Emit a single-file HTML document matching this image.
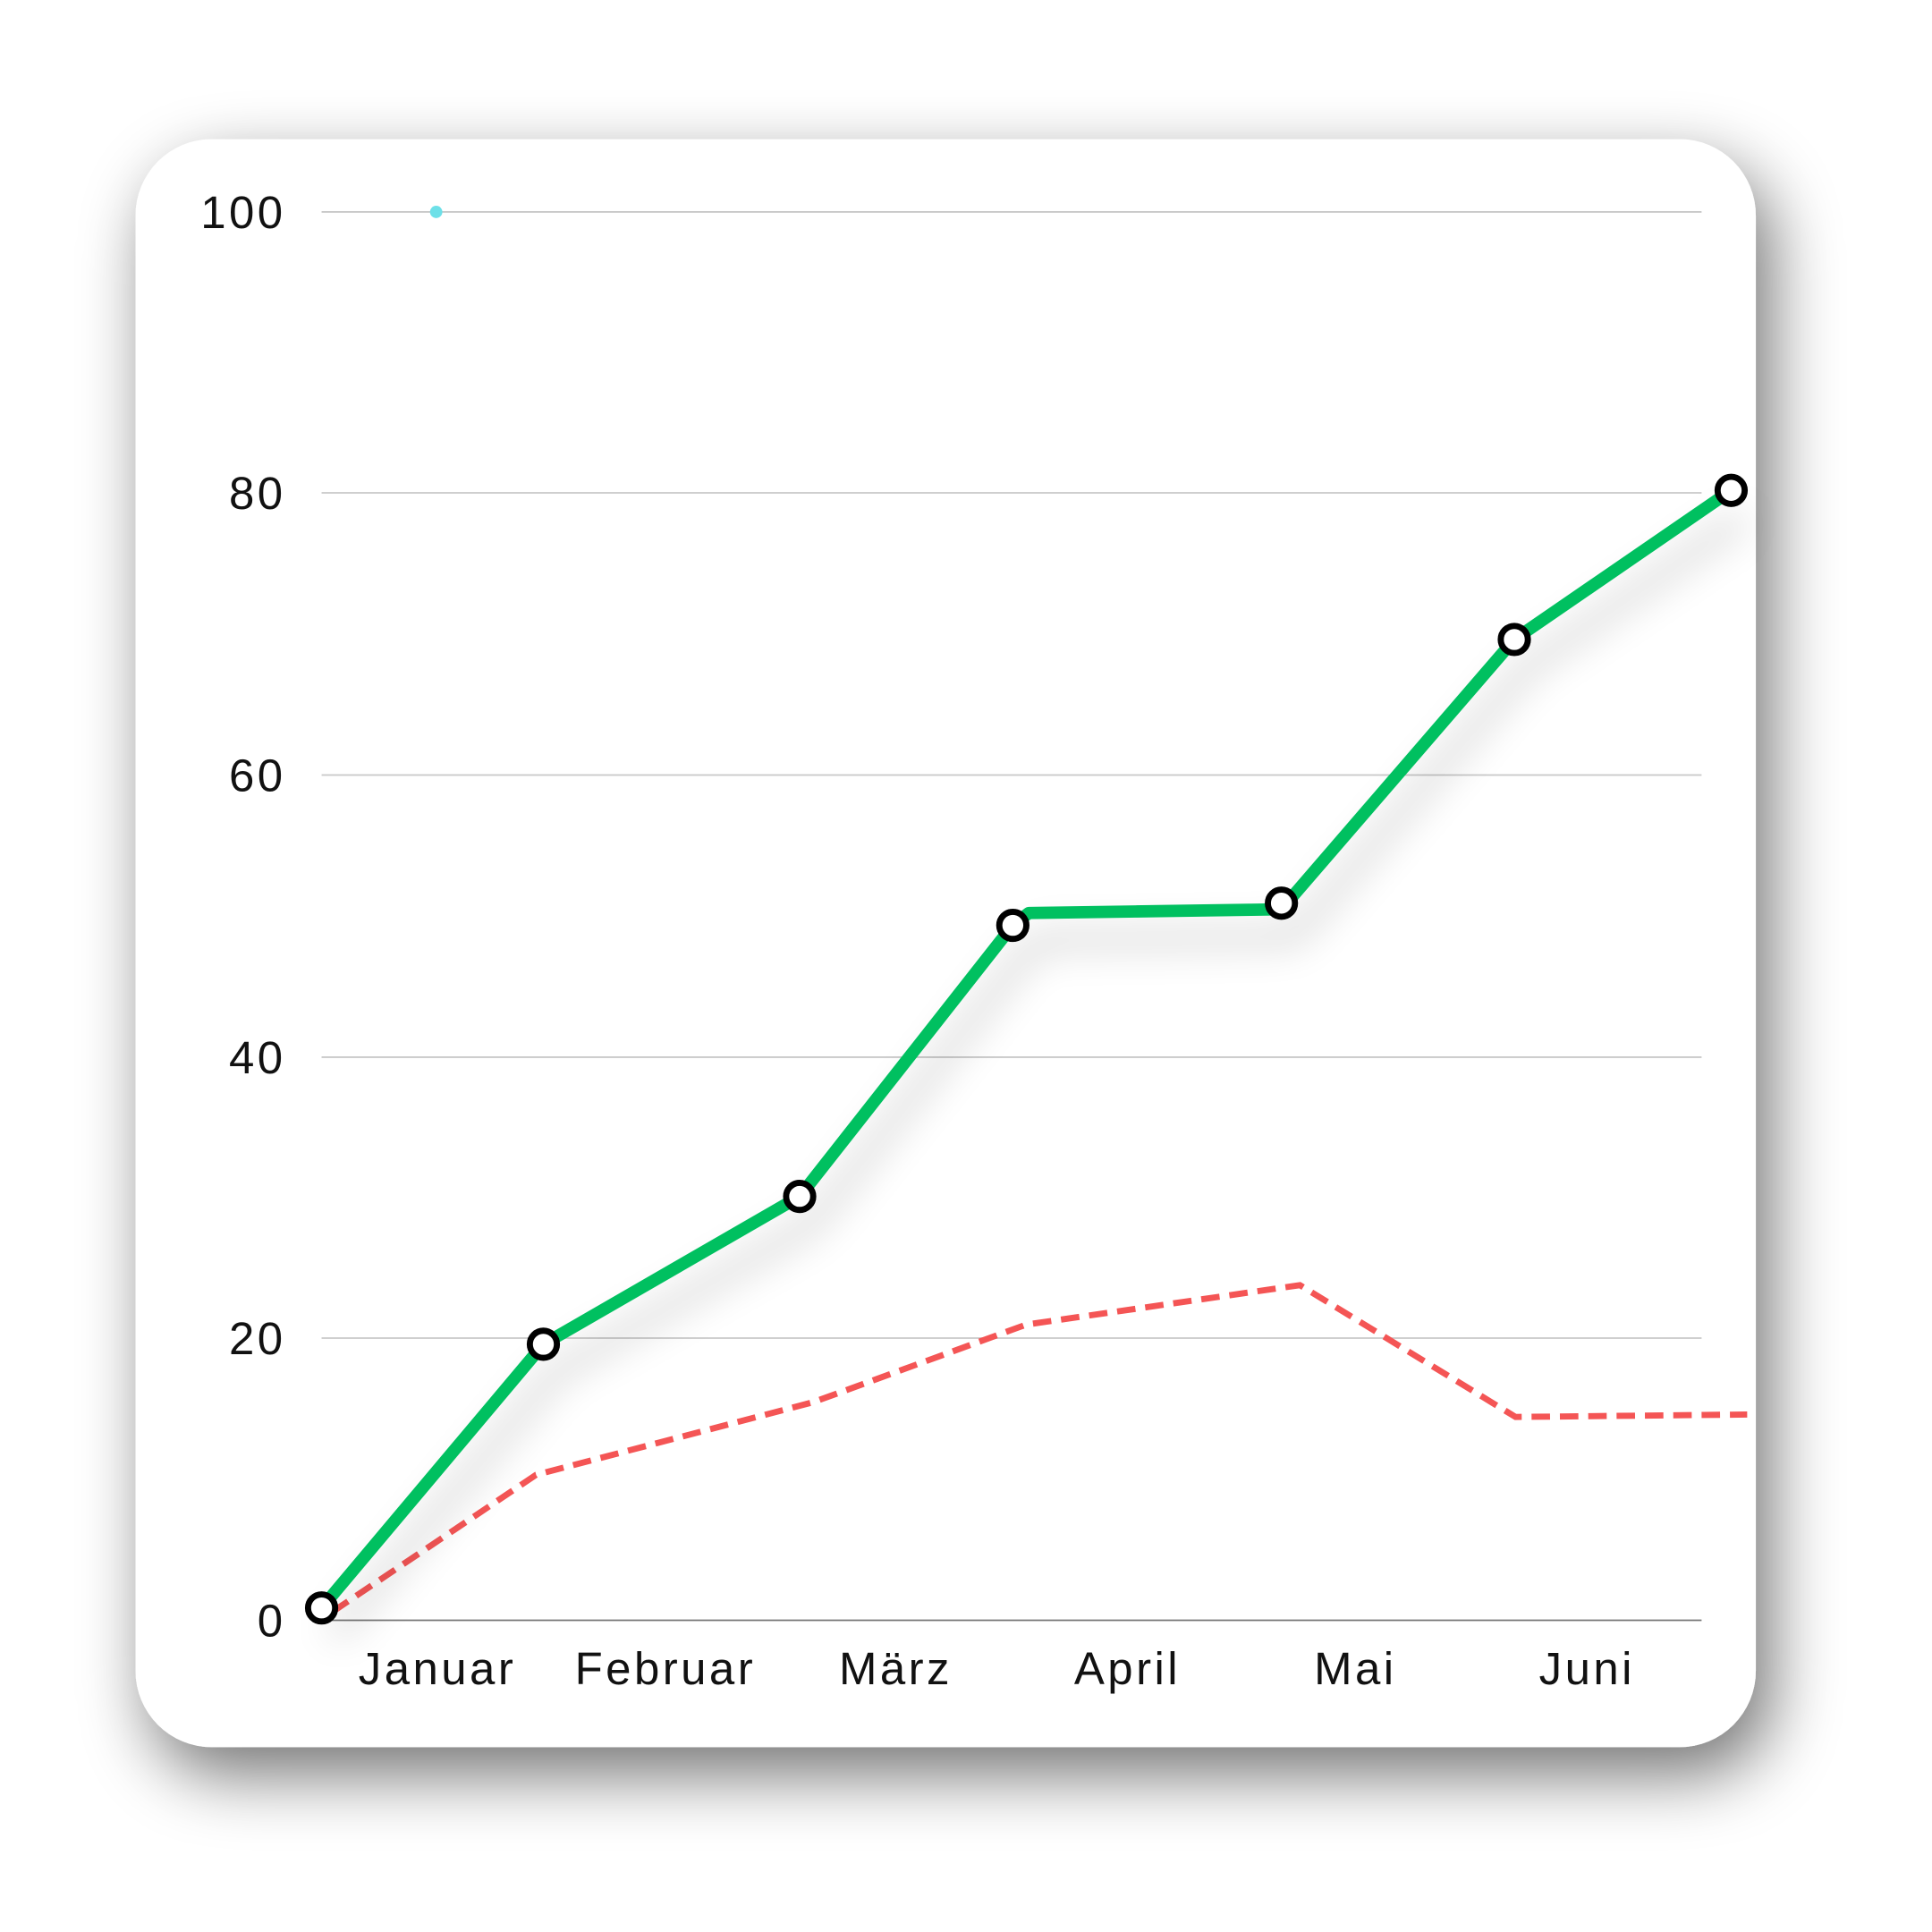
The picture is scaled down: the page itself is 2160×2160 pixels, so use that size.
<!DOCTYPE html>
<html><head><meta charset="utf-8"><style>
html,body{margin:0;padding:0;background:#fff;}
svg{display:block;}
text{font-family:"Liberation Sans",sans-serif;fill:#111;letter-spacing:2.5px;}
</style></head><body>
<svg width="2160" height="2160" viewBox="0 0 1568 1568" xmlns="http://www.w3.org/2000/svg">
<defs>
<filter id="card" x="-20%" y="-20%" width="140%" height="140%">
<feGaussianBlur in="SourceAlpha" stdDeviation="28"/>
<feOffset dx="12" dy="22" result="b"/>
<feComponentTransfer in="b" result="c"><feFuncA type="linear" slope="0.55"/></feComponentTransfer>
<feMerge><feMergeNode in="c"/><feMergeNode in="SourceGraphic"/></feMerge>
</filter>
<filter id="ls" x="-20%" y="-20%" width="140%" height="140%">
<feGaussianBlur in="SourceAlpha" stdDeviation="16"/>
<feOffset dx="10" dy="22" result="b"/>
<feComponentTransfer in="b" result="c"><feFuncA type="linear" slope="0.25"/></feComponentTransfer>
<feMerge><feMergeNode in="c"/><feMergeNode in="SourceGraphic"/></feMerge>
</filter>
</defs>
<rect x="110" y="113" width="1315" height="1305" rx="62" fill="#fff" filter="url(#card)"/>
<g stroke="#c8c8c8" stroke-width="1.3">
<line x1="261" y1="172" x2="1381" y2="172"/>
<line x1="261" y1="400" x2="1381" y2="400"/>
<line x1="261" y1="629" x2="1381" y2="629"/>
<line x1="261" y1="858" x2="1381" y2="858"/>
<line x1="261" y1="1086" x2="1381" y2="1086"/>
</g>
<line x1="261" y1="1315" x2="1381" y2="1315" stroke="#777" stroke-width="1.3"/>
<g font-size="37">
<text x="232" y="185" text-anchor="end">100</text>
<text x="232" y="413" text-anchor="end">80</text>
<text x="232" y="642" text-anchor="end">60</text>
<text x="232" y="871" text-anchor="end">40</text>
<text x="232" y="1099" text-anchor="end">20</text>
<text x="232" y="1328" text-anchor="end">0</text>
</g>
<g font-size="37" text-anchor="middle">
<text x="355" y="1367">Januar</text>
<text x="540" y="1367">Februar</text>
<text x="727" y="1367">März</text>
<text x="915" y="1367">April</text>
<text x="1100" y="1367">Mai</text>
<text x="1288" y="1367">Juni</text>
</g>
<circle cx="354" cy="172" r="5" fill="#6de0e8"/>
<polyline points="270,1308 435,1197 660,1138 833,1075 1055,1043 1230,1150 1418,1148" fill="none" stroke="#f45555" stroke-width="5" stroke-dasharray="15,8"/>
<polyline filter="url(#ls)" points="261,1305 441,1091 649,971 822,751 835,741 1040,738 1229,519 1405,398" fill="none" stroke="#00c060" stroke-width="10" stroke-linejoin="round"/>
<g fill="#fff" stroke="#000" stroke-width="5">
<circle cx="261" cy="1305" r="11"/>
<circle cx="441" cy="1091" r="11"/>
<circle cx="649" cy="971" r="11"/>
<circle cx="822" cy="751" r="11"/>
<circle cx="1040" cy="733" r="11"/>
<circle cx="1229" cy="519" r="11"/>
<circle cx="1405" cy="398" r="11"/>
</g>
</svg>
</body></html>
